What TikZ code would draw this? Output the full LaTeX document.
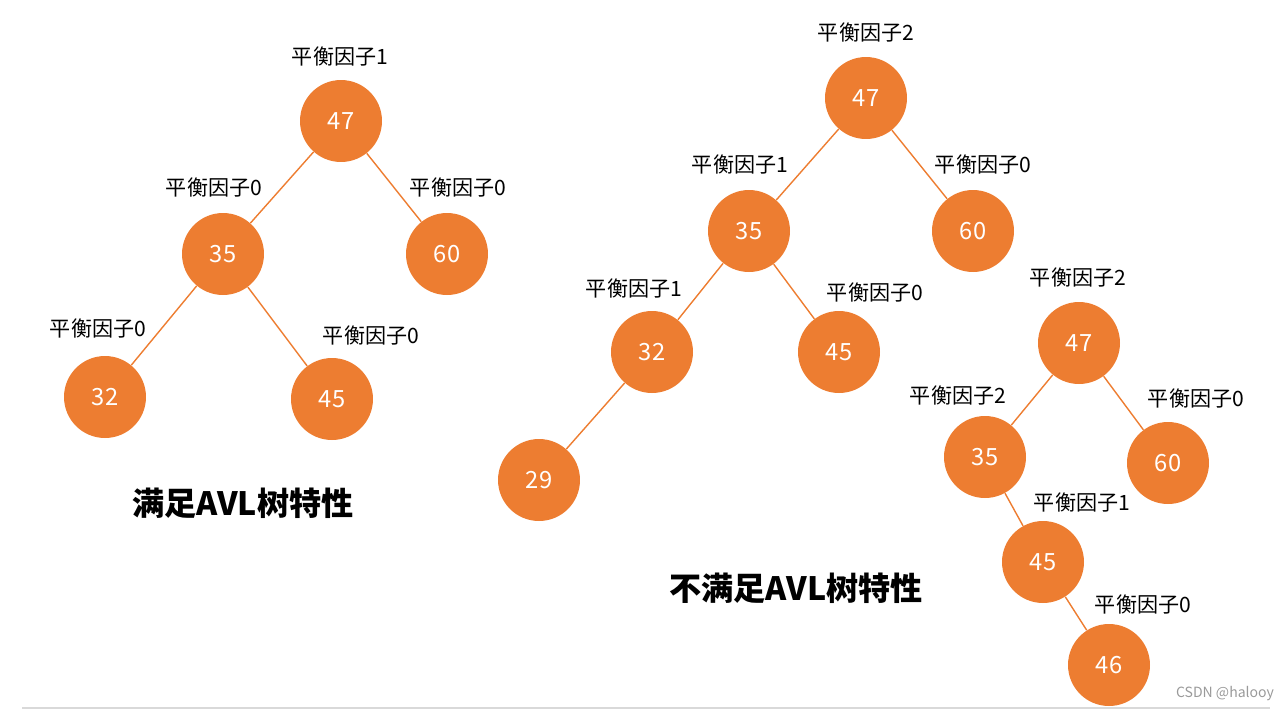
\documentclass[tikz,border=0pt]{standalone}
\usepackage{fontspec}
\setmainfont{Noto Sans CJK SC}
\setsansfont{Noto Sans CJK SC}
\definecolor{avlorange}{HTML}{ED7D31}
\definecolor{marklgray}{HTML}{9A9A9A}
\begin{document}
\begin{tikzpicture}[x=0.02cm, y=-0.02cm,
  every node/.style={font=\sffamily},
  key/.style={circle, fill=avlorange, minimum size=1.64cm, inner sep=0pt,
    text=white, font=\sffamily\fontsize{13.5}{13.5}\selectfont},
  bf/.style={font=\sffamily\fontsize{12}{12}\selectfont},
  title/.style={font=\sffamily\bfseries\fontsize{18.3}{19}\selectfont},
  edge/.style={draw=avlorange, line width=0.8pt}]

  \useasboundingbox (0, 0) rectangle (1288, 711);

  % left tree
  \node[key] (l47) at ( 341, 121) {47};
  \node[key] (l35) at ( 223, 254) {35};
  \node[key] (l60) at ( 447, 254) {60};
  \node[key] (l32) at ( 105, 397) {32};
  \node[key] (l45) at ( 332, 399) {45};

  \node[bf] (bl47) at ( 340,  56) {平衡因子1};
  \node[bf] (bl35) at ( 214, 187) {平衡因子0};
  \node[bf] (bl60) at ( 458, 187) {平衡因子0};
  \node[bf] (bl32) at (  98, 328) {平衡因子0};
  \node[bf] (bl45) at ( 371, 335) {平衡因子0};

  \draw[edge] (l47) -- (l35);
  \draw[edge] (l47) -- (l60);
  \draw[edge] (l35) -- (l32);
  \draw[edge] (l35) -- (l45);

  \node[title] (tl) at ( 243, 503) {满足AVL树特性};

  % middle tree
  \node[key] (m47) at ( 866,  98) {47};
  \node[key] (m35) at ( 749, 231) {35};
  \node[key] (m60) at ( 973, 231) {60};
  \node[key] (m32) at ( 652, 352) {32};
  \node[key] (m45) at ( 839, 352) {45};
  \node[key] (m29) at ( 539, 480) {29};

  \node[bf] (bm47) at ( 866,  32) {平衡因子2};
  \node[bf] (bm35) at ( 740, 164) {平衡因子1};
  \node[bf] (bm60) at ( 983, 164) {平衡因子0};
  \node[bf] (bm32) at ( 634, 288) {平衡因子1};
  \node[bf] (bm45) at ( 875, 292) {平衡因子0};

  \draw[edge] (m47) -- (m35);
  \draw[edge] (m47) -- (m60);
  \draw[edge] (m35) -- (m32);
  \draw[edge] (m35) -- (m45);
  \draw[edge] (m32) -- (m29);

  \node[title] (tm) at ( 796, 588) {不满足AVL树特性};

  % right tree
  \node[key] (r47) at (1079, 343) {47};
  \node[key] (r35) at ( 985, 457) {35};
  \node[key] (r60) at (1168, 463) {60};
  \node[key] (r45) at (1043, 562) {45};
  \node[key] (r46) at (1109, 665) {46};

  \node[bf] (br47) at (1078, 277) {平衡因子2};
  \node[bf] (br35) at ( 958, 395) {平衡因子2};
  \node[bf] (br60) at (1196, 398) {平衡因子0};
  \node[bf] (br45) at (1082, 502) {平衡因子1};
  \node[bf] (br46) at (1143, 604) {平衡因子0};

  \draw[edge] (r47) -- (r35);
  \draw[edge] (r47) -- (r60);
  \draw[edge] (r35) -- (r45);
  \draw[edge] (r45) -- (r46);

  % footer
  \draw[black!15, line width=1pt] (22, 708) -- (1270, 708);
  \node[text=marklgray, font=\sffamily\fontsize{8}{8}\selectfont] (mark) at (1225, 694) {CSDN @halooy};

\end{tikzpicture}
\end{document}
